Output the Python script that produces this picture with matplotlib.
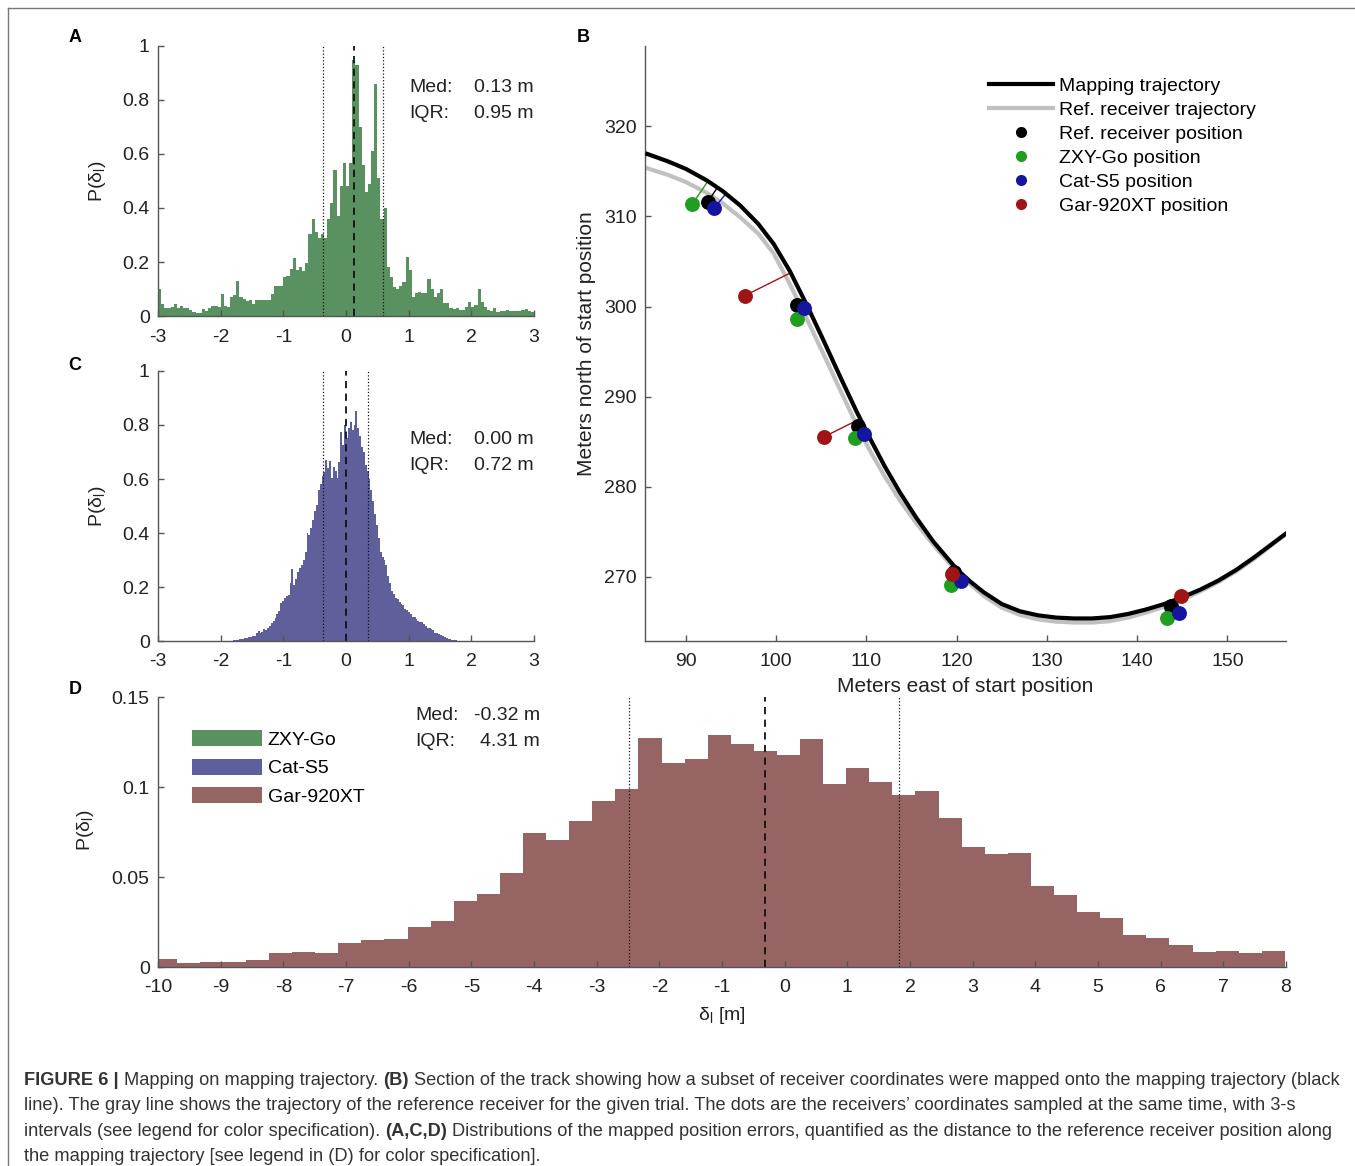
import matplotlib
matplotlib.use("Agg")
import matplotlib.pyplot as plt
import numpy as np
from matplotlib.lines import Line2D
from matplotlib.patches import Patch

plt.rcParams['font.family'] = ['Liberation Sans', 'DejaVu Sans']
plt.rcParams['axes.unicode_minus'] = False

W, H = 1355, 1166

# ---- panel A: ZXY-Go error distribution (bin width 0.05 from -3)
a_start, a_width = -3.0, 0.05
a_heights = [0.10, 0.045, 0.03, 0.03, 0.035, 0.045, 0.03, 0.038, 0.028, 0.03,
             0.022, 0.016, 0.012, 0.012, 0.025, 0.018, 0.03, 0.038, 0.038, 0.035,
             0.08, 0.038, 0.035, 0.07, 0.078, 0.13, 0.072, 0.062, 0.055, 0.058,
             0.044, 0.058, 0.06, 0.058, 0.058, 0.06, 0.08, 0.11, 0.11, 0.112,
             0.145, 0.148, 0.175, 0.215, 0.17, 0.183, 0.165, 0.198, 0.305, 0.36,
             0.31, 0.29, 0.305, 0.29, 0.36, 0.42, 0.54, 0.37, 0.48, 0.565,
             0.48, 0.565, 0.95, 0.93, 0.70, 0.56, 0.46, 0.49, 0.61, 0.86,
             0.51, 0.36, 0.40, 0.18, 0.146, 0.109, 0.10, 0.11, 0.127, 0.217,
             0.17, 0.072, 0.084, 0.09, 0.084, 0.084, 0.136, 0.10, 0.072, 0.084,
             0.10, 0.047, 0.047, 0.028, 0.025, 0.028, 0.022, 0.022, 0.035, 0.053,
             0.035, 0.04, 0.10, 0.053, 0.035, 0.022, 0.02, 0.028, 0.016, 0.02,
             0.018, 0.022, 0.02, 0.018, 0.02, 0.02, 0.022, 0.025, 0.02, 0.015]
a_stats = {'med': 0.13, 'q1': -0.36, 'q3': 0.59, 'iqr': 0.95}

# ---- panel C: Cat-S5 error distribution (bin width 0.03 from -1.8)
c_start, c_width = -1.80, 0.03
c_heights = [0.002, 0.003, 0.004, 0.006, 0.007, 0.008, 0.010, 0.011, 0.013, 0.014,
             0.017, 0.020, 0.028, 0.037, 0.031, 0.034, 0.043, 0.040, 0.047, 0.055,
             0.065, 0.075, 0.084, 0.100, 0.112, 0.140, 0.150, 0.158, 0.165, 0.172,
             0.215, 0.267, 0.207, 0.230, 0.257, 0.270, 0.280, 0.300, 0.330, 0.400,
             0.393, 0.420, 0.448, 0.480, 0.504, 0.560, 0.580, 0.610, 0.627, 0.670,
             0.640, 0.665, 0.602, 0.645, 0.630, 0.602, 0.664, 0.775, 0.726, 0.800,
             0.750, 0.790, 0.810, 0.780, 0.800, 0.850, 0.790, 0.760, 0.720, 0.700,
             0.650, 0.630, 0.600, 0.560, 0.520, 0.470, 0.430, 0.380, 0.330, 0.310,
             0.300, 0.280, 0.240, 0.215, 0.185, 0.175, 0.160, 0.156, 0.146, 0.138,
             0.133, 0.120, 0.115, 0.109, 0.100, 0.090, 0.088, 0.081, 0.075, 0.072,
             0.069, 0.062, 0.057, 0.050, 0.047, 0.043, 0.040, 0.030, 0.028, 0.025,
             0.022, 0.020, 0.014, 0.012, 0.008, 0.007, 0.005, 0.004, 0.002, 0.001,
             0.001]
c_stats = {'med': 0.00, 'q1': -0.37, 'q3': 0.35, 'iqr': 0.72}

# ---- panel D: Gar-920XT error distribution (bin width 0.3684 from -10.07)
d_start, d_width = -10.07, 0.3684
d_heights = [0.0044, 0.0024, 0.0028, 0.0026, 0.0037, 0.008, 0.0083, 0.0078, 0.0133, 0.0148,
             0.0154, 0.022, 0.0257, 0.0367, 0.0407, 0.0522, 0.0744, 0.0704, 0.0813, 0.0922,
             0.0989, 0.127, 0.1133, 0.1154, 0.1287, 0.124, 0.1198, 0.1176, 0.1265, 0.1015,
             0.1104, 0.103, 0.0957, 0.0978, 0.0828, 0.0669, 0.063, 0.0633, 0.0448, 0.04,
             0.0307, 0.0272, 0.018, 0.0161, 0.012, 0.0085, 0.0087, 0.0078, 0.0091]
d_stats = {'med': -0.32, 'q1': -2.48, 'q3': 1.83, 'iqr': 4.31}

# ---- panel B: trajectories and receiver positions
traj_x = [85.5, 88, 90, 92.3, 94, 96, 98, 99.7, 101.5, 103.4, 105.2, 107.1, 108.9, 110.5,
          112, 113.7, 115.5, 117.4, 120, 121.5, 123, 125, 127, 129, 131, 133, 135, 137,
          139, 141, 143, 145, 147, 149, 151, 153, 155, 156.6]
map_y = [317.0, 316.1, 315.26, 313.99, 312.85, 311.21, 309.17, 306.96, 303.94, 300.14,
         296.32, 292.18, 288.36, 285.16, 282.31, 279.39, 276.6, 273.94, 270.87, 269.5,
         268.3, 267.0, 266.2, 265.75, 265.5, 265.4, 265.4, 265.55, 265.9, 266.4, 267.0,
         267.75, 268.6, 269.6, 270.8, 272.2, 273.7, 274.9]
ref_y = [315.4, 314.6, 313.8, 312.6, 311.5, 309.9, 308.1, 305.9, 302.5, 298.6,
         294.8, 290.7, 286.9, 283.8, 281.2, 278.5, 276.0, 273.6, 270.6, 269.2,
         267.9, 266.6, 265.8, 265.3, 265.05, 264.95, 264.95, 265.1, 265.5, 266.05, 266.7,
         267.5, 268.4, 269.45, 270.65, 272.05, 273.6, 274.85]

pos_ref_x = [92.4, 102.3, 109.1, 119.7, 143.7]
pos_ref_y = [311.6, 300.2, 286.7, 270.6, 266.8]
pos_zxy_x = [90.7, 102.3, 108.7, 119.35, 143.35]
pos_zxy_y = [311.35, 298.6, 285.4, 269.1, 265.5]
pos_cat_x = [93.1, 103.1, 109.7, 120.45, 144.6]
pos_cat_y = [310.9, 299.8, 285.9, 269.5, 266.0]
pos_gar_x = [84.2, 96.5, 105.3, 119.5, 144.85]
pos_gar_y = [313.0, 301.2, 285.55, 270.3, 267.9]

green = '#5a9160'
blue = '#5f5f9c'
brown = '#966563'
dot_colors = {'ref': '#000000', 'zxy': '#1f9e1f', 'cat': '#1515a0', 'gar': '#a01414'}
txt_col = '#222222'
FS = 14


def px_axes(l, t, r, b):
    return fig.add_axes([l / W, 1 - b / H, (r - l) / W, (b - t) / H])


def style(ax):
    for s in ['top', 'right']:
        ax.spines[s].set_visible(False)
    for s in ['left', 'bottom']:
        ax.spines[s].set_color('#555555')
        ax.spines[s].set_linewidth(1.0)
    ax.tick_params(direction='in', length=4, width=1, color='#555555',
                   labelsize=FS, labelcolor=txt_col, pad=6)
    ax.tick_params(axis='x', pad=9)


def hist_panel(ax, start, width, heights, color, stats):
    edges = start + width * np.arange(len(heights))
    ax.bar(edges, heights, width=width, align='edge', color=color, linewidth=0)
    ax.axvline(stats['q1'], color='#111111', ls=':', lw=0.9)
    ax.axvline(stats['q3'], color='#111111', ls=':', lw=0.9)
    ax.axvline(stats['med'], color='#111111', ls=(0, (4, 3)), lw=1.3)


def nearest_on_curve(px, py, cx, cy):
    cx, cy = np.asarray(cx), np.asarray(cy)
    best, bx, by = 1e9, cx[0], cy[0]
    for i in range(len(cx) - 1):
        x0, y0, x1, y1 = cx[i], cy[i], cx[i + 1], cy[i + 1]
        dx, dy = x1 - x0, y1 - y0
        t = np.clip(((px - x0) * dx + (py - y0) * dy) / (dx * dx + dy * dy), 0, 1)
        qx, qy = x0 + t * dx, y0 + t * dy
        d = np.hypot(px - qx, py - qy)
        if d < best:
            best, bx, by = d, qx, qy
    return bx, by


fig = plt.figure(figsize=(W / 100, H / 100), dpi=100)

ylab = 'P(δ$_\\mathregular{l}$)'

# A
ax_a = px_axes(158, 46, 534, 316)
hist_panel(ax_a, a_start, a_width, a_heights, green, a_stats)
ax_a.set_xlim(-3, 3)
ax_a.set_ylim(0, 1)
ax_a.set_xticks(range(-3, 4))
ax_a.set_yticks([0, 0.2, 0.4, 0.6, 0.8, 1])
ax_a.set_yticklabels(['0', '0.2', '0.4', '0.6', '0.8', '1'])
style(ax_a)
ax_a.set_ylabel(ylab, fontsize=FS, color=txt_col, va='center')
ax_a.yaxis.set_label_coords(-0.16, 0.5)

# C
ax_c = px_axes(158, 371, 534, 641)
hist_panel(ax_c, c_start, c_width, c_heights, blue, c_stats)
ax_c.set_xlim(-3, 3)
ax_c.set_ylim(0, 1)
ax_c.set_xticks(range(-3, 4))
ax_c.set_yticks([0, 0.2, 0.4, 0.6, 0.8, 1])
ax_c.set_yticklabels(['0', '0.2', '0.4', '0.6', '0.8', '1'])
style(ax_c)
ax_c.set_ylabel(ylab, fontsize=FS, color=txt_col, va='center')
ax_c.yaxis.set_label_coords(-0.16, 0.5)

# D
ax_d = px_axes(158, 697, 1286, 967)
hist_panel(ax_d, d_start, d_width, d_heights, brown, d_stats)
ax_d.set_xlim(-10, 8)
ax_d.set_ylim(0, 0.15)
ax_d.set_xticks(range(-10, 9))
ax_d.set_yticks([0, 0.05, 0.1, 0.15])
ax_d.set_yticklabels(['0', '0.05', '0.1', '0.15'])
style(ax_d)
ax_d.set_ylabel(ylab, fontsize=FS, color=txt_col, va='center')
ax_d.yaxis.set_label_coords(-0.0647, 0.507)
ax_d.set_xlabel('δ$_\\mathregular{l}$ [m]', fontsize=FS, color=txt_col, va='center')
ax_d.xaxis.set_label_coords(0.5, -0.178)
d_handles = [Patch(facecolor=green), Patch(facecolor=blue), Patch(facecolor=brown)]
ax_d.legend(d_handles, ['ZXY-Go', 'Cat-S5', 'Gar-920XT'], loc='upper left',
            bbox_to_anchor=(192 / W, 1 - 730 / H), bbox_transform=fig.transFigure,
            frameon=False, fontsize=FS, handlelength=3.6, handleheight=0.9,
            handletextpad=0.3, labelspacing=0.5, borderpad=0, borderaxespad=0)

# B
ax_b = px_axes(645, 46, 1286, 641)
ax_b.plot(traj_x, ref_y, color='#c0c0c0', lw=3.0, solid_capstyle='butt', zorder=2)
ax_b.plot(traj_x, map_y, color='black', lw=3.0, solid_capstyle='butt', zorder=3)
receivers = [('ref', pos_ref_x, pos_ref_y), ('zxy', pos_zxy_x, pos_zxy_y),
             ('cat', pos_cat_x, pos_cat_y), ('gar', pos_gar_x, pos_gar_y)]
for key, xs, ys in receivers:
    for px, py in zip(xs, ys):
        qx, qy = nearest_on_curve(px, py, traj_x, map_y)
        ax_b.plot([px, qx], [py, qy], color=dot_colors[key], lw=1.0, zorder=2.5)
for key, xs, ys in receivers:
    ax_b.scatter(xs, ys, s=115, color=dot_colors[key], linewidths=0, zorder=4)
ax_b.set_xlim(85.45, 156.5)
ax_b.set_ylim(262.9, 328.9)
ax_b.set_xticks(range(90, 151, 10))
ax_b.set_yticks(range(270, 321, 10))
style(ax_b)
ax_b.set_xlabel('Meters east of start position', fontsize=15, color=txt_col, va='center')
ax_b.xaxis.set_label_coords(0.5, -0.077)
ax_b.set_ylabel('Meters north of start position', fontsize=15, color=txt_col, va='center')
ax_b.yaxis.set_label_coords(-0.0905, 0.5)
b_handles = [Line2D([], [], color='black', lw=3),
             Line2D([], [], color='#c0c0c0', lw=3)]
for key in ['ref', 'zxy', 'cat', 'gar']:
    b_handles.append(Line2D([], [], ls='none', marker='o', markersize=8,
                            markeredgewidth=0, color=dot_colors[key]))
b_labels = ['Mapping trajectory', 'Ref. receiver trajectory', 'Ref. receiver position',
            'ZXY-Go position', 'Cat-S5 position', 'Gar-920XT position']
ax_b.legend(b_handles, b_labels, loc='upper left',
            bbox_to_anchor=(989 / W, 1 - 77 / H), bbox_transform=fig.transFigure,
            frameon=False, fontsize=FS, handlelength=3.3, handletextpad=0.3,
            labelspacing=0.33, borderpad=0, borderaxespad=0)

# statistics text
for ax_l, ax_r, y1, y2, st in [(409, 534, 87, 113, a_stats), (409, 534, 439, 465, c_stats),
                               (415, 540, 715, 742, d_stats)]:
    fig.text(ax_l / W, 1 - y1 / H, 'Med:', fontsize=FS, color=txt_col, va='center')
    fig.text(ax_r / W, 1 - y1 / H, f"{st['med']:.2f} m", fontsize=FS, color=txt_col,
             va='center', ha='right')
    fig.text(ax_l / W, 1 - y2 / H, 'IQR:', fontsize=FS, color=txt_col, va='center')
    fig.text(ax_r / W, 1 - y2 / H, f"{st['iqr']:.2f} m", fontsize=FS, color=txt_col,
             va='center', ha='right')

# panel letters
for letter, x, y in [('A', 75, 37), ('B', 583, 37), ('C', 75, 365), ('D', 75, 690)]:
    fig.text(x / W, 1 - y / H, letter, fontsize=13, fontweight='bold', ha='center', va='center')

# frame lines
fig.add_artist(Line2D([8 / W, 8 / W], [0, 1 - 8 / H], transform=fig.transFigure,
                      color='#777777', lw=1))
fig.add_artist(Line2D([8 / W, 1], [1 - 8 / H, 1 - 8 / H], transform=fig.transFigure,
                      color='#777777', lw=1))

# caption with bold pieces
caption = [
    [('FIGURE 6 |', True), ('Mapping on mapping trajectory.', False), ('(B)', True),
     ('Section of the track showing how a subset of receiver coordinates were mapped onto the mapping trajectory (black', False)],
    [('line). The gray line shows the trajectory of the reference receiver for the given trial. The dots are the receivers\u2019 coordinates sampled at the same time, with 3-s', False)],
    [('intervals (see legend for color specification).', False), ('(A,C,D)', True),
     ('Distributions of the mapped position errors, quantified as the distance to the reference receiver position along', False)],
    [('the mapping trajectory [see legend in (D) for color specification].', False)],
]
cap_size = 13.12
renderer = fig.canvas.get_renderer()
probe1 = fig.text(0, 0, 'a a', fontsize=cap_size)
probe2 = fig.text(0, 0, 'aa', fontsize=cap_size)
space_w = probe1.get_window_extent(renderer).width - probe2.get_window_extent(renderer).width
probe1.remove()
probe2.remove()
for i, parts in enumerate(caption):
    x = 24
    y = 1085 + 25.3 * i
    for txt, bold in parts:
        t = fig.text(x / W, 1 - y / H, txt, fontsize=cap_size, color='#333333',
                     fontweight='bold' if bold else 'normal', va='baseline', ha='left')
        x += t.get_window_extent(renderer).width + space_w

fig.savefig('out.png', dpi=100)
